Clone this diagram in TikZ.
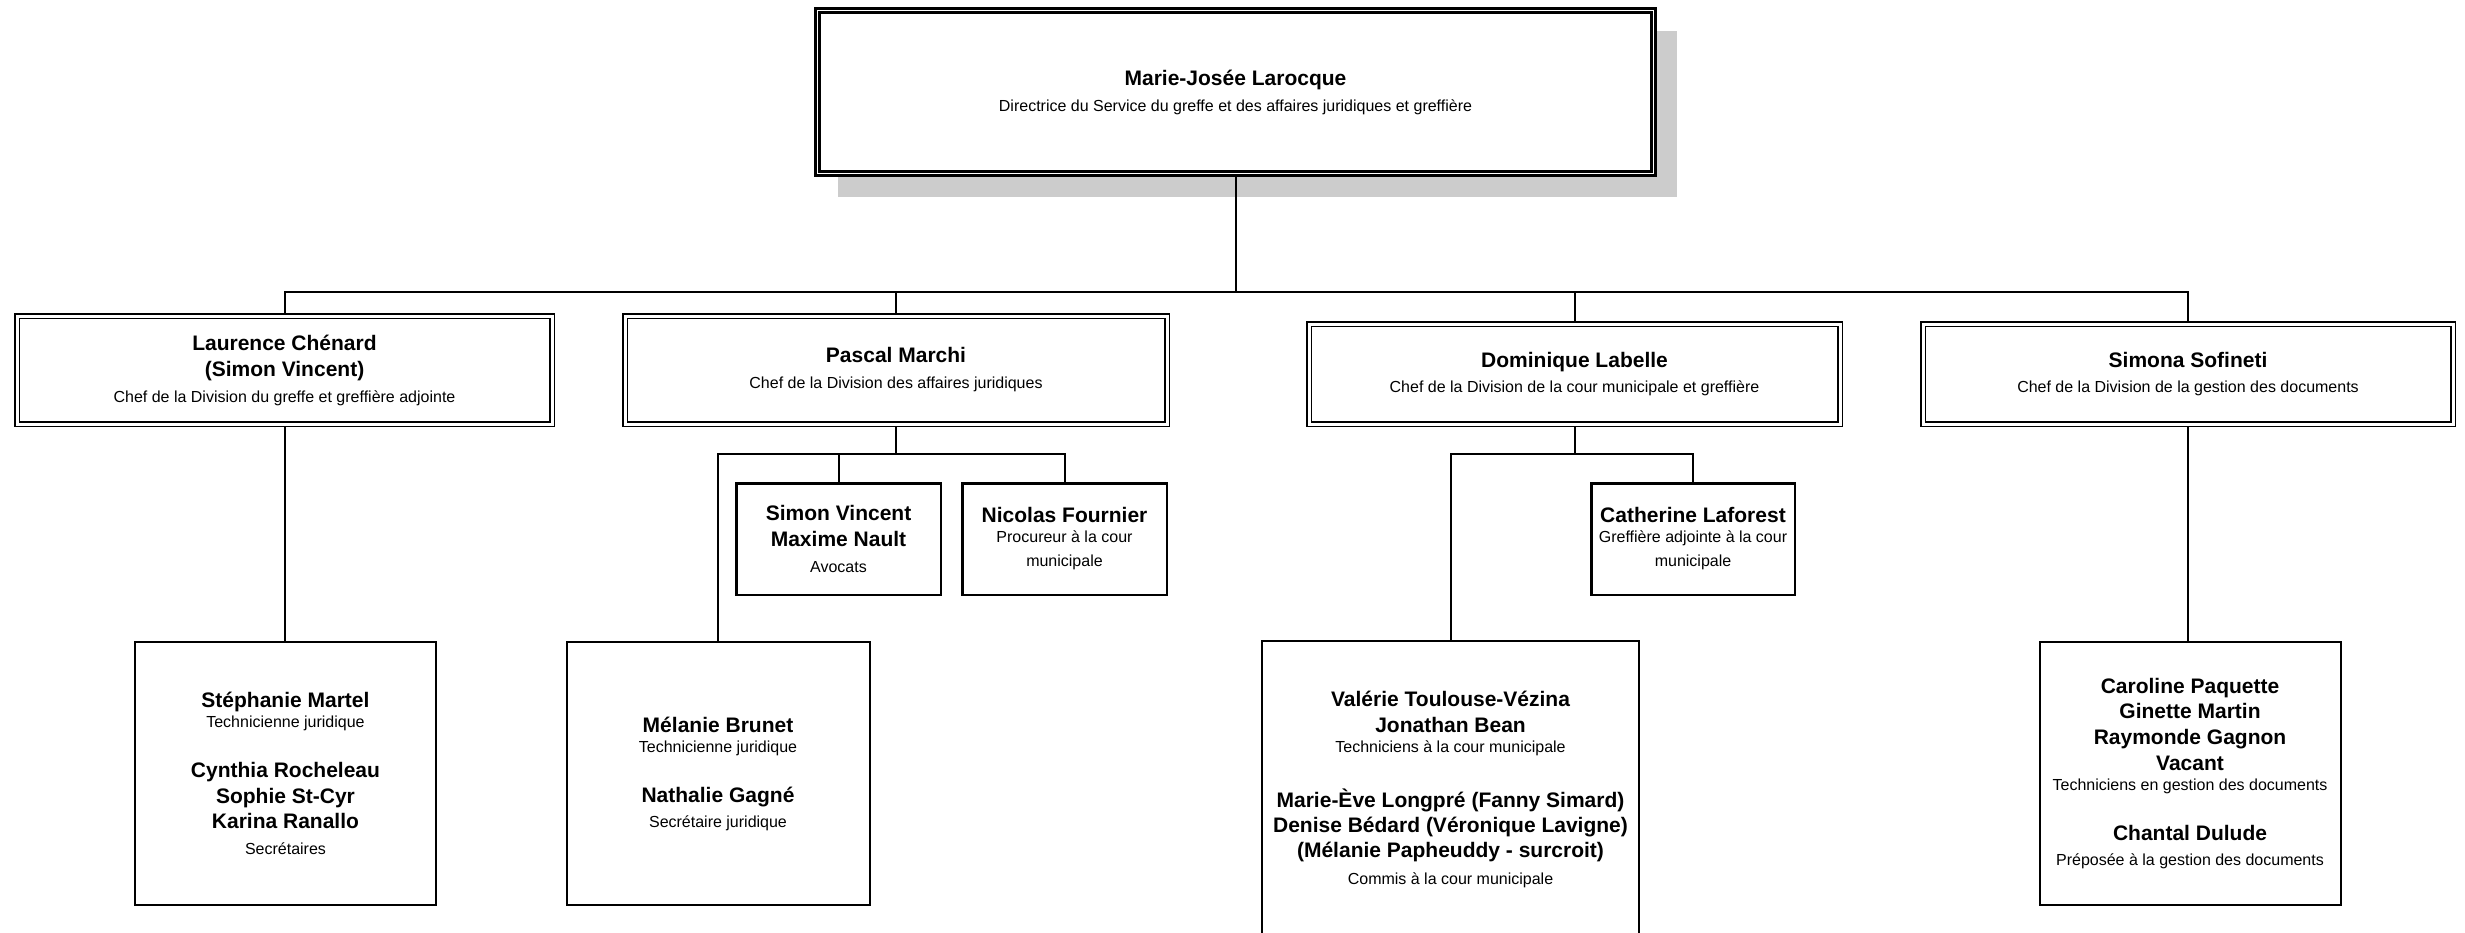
\documentclass[tikz,border=0pt]{standalone}
\usepackage{fontspec}
\setmainfont{Liberation Sans}
\usetikzlibrary{backgrounds}
\newcommand\pname[1]{{\fontsize{21}{25}\selectfont\bfseries #1}}
\newcommand\ptitle[1]{{\fontsize{16}{20}\selectfont #1}}
\tikzset{
  base/.style={fill=white, align=center, inner sep=0pt, font=\fontsize{16}{20}\selectfont},
  topbox/.style={base, draw, line width=2.5pt, double=white, double distance=1.5pt},
  divbox/.style={base, draw, line width=1.3pt, double=white, double distance=3pt},
  smallbox/.style={base, draw, line width=2.5pt},
  staffbox/.style={base, draw, line width=2pt},
  conn/.style={draw, line width=2pt},
  shadowbox/.style={fill=black!20, draw=none}
}
\begin{document}
\begin{tikzpicture}[x=1pt, y=-1pt]
\useasboundingbox (0,0) rectangle (2465,932);
\clip (0,0) rectangle (2465,932);

% top
\node[topbox, minimum width=836pt, minimum height=163pt] (top) at (1235.5,92)
  {\pname{Marie-Josée Larocque}\\[6pt]\ptitle{Directrice du Service du greffe et des affaires juridiques et greffière}};

% divisions
\node[divbox, minimum width=535pt, minimum height=108pt] (b1) at (284.5,370)
  {\pname{Laurence Chénard}\\[6pt]\pname{(Simon Vincent)}\\[6pt]\ptitle{Chef de la Division du greffe et greffière adjointe}};
\node[divbox, minimum width=542pt, minimum height=108pt] (b2) at (896,370)
  {\pname{Pascal Marchi}\\[6pt]\ptitle{Chef de la Division des affaires juridiques}};
\node[divbox, minimum width=531pt, minimum height=100pt] (b3) at (1574.5,374)
  {\pname{Dominique Labelle}\\[5pt]\ptitle{Chef de la Division de la cour municipale et greffière}};
\node[divbox, minimum width=530pt, minimum height=100pt] (b4) at (2188,374)
  {\pname{Simona Sofineti}\\[5pt]\ptitle{Chef de la Division de la gestion des documents}};

% level 3
\node[smallbox, minimum width=204.5pt, minimum height=111.5pt] (sim) at (838.5,539)
  {\pname{Simon Vincent}\\[6pt]\pname{Maxime Nault}\\[6pt]\ptitle{Avocats}};
\node[smallbox, minimum width=204.5pt, minimum height=111.5pt] (nic) at (1064.5,539)
  {\pname{Nicolas Fournier}\\\ptitle{Procureur à la cour}\\[4pt]\ptitle{municipale}};
\node[smallbox, minimum width=203.5pt, minimum height=111.5pt] (cat) at (1693,539)
  {\pname{Catherine Laforest}\\\ptitle{Greffière adjointe à la cour}\\[4pt]\ptitle{municipale}};

% staff
\node[staffbox, minimum width=301pt, minimum height=263pt] (sa) at (285.5,773.5)
  {\pname{Stéphanie Martel}\\\ptitle{Technicienne juridique}\\[30pt]\pname{Cynthia Rocheleau}\\[6pt]\pname{Sophie St-Cyr}\\[5pt]\pname{Karina Ranallo}\\[6pt]\ptitle{Secrétaires}};
\node[staffbox, minimum width=303pt, minimum height=263pt] (sb) at (718,773.5)
  {\pname{Mélanie Brunet}\\\ptitle{Technicienne juridique}\\[30pt]\pname{Nathalie Gagné}\\[5pt]\ptitle{Secrétaire juridique}};
\node[staffbox, minimum width=377pt, minimum height=297pt] (sc) at (1450.5,789.5)
  {\pname{Valérie Toulouse-Vézina}\\[6pt]\pname{Jonathan Bean}\\\ptitle{Techniciens à la cour municipale}\\[32pt]\pname{Marie-Ève Longpré (Fanny Simard)}\\[5pt]\pname{Denise Bédard (Véronique Lavigne)}\\[5pt]\pname{(Mélanie Papheuddy - surcroit)}\\[7pt]\ptitle{Commis à la cour municipale}};
\node[staffbox, minimum width=301pt, minimum height=263pt] (sd) at (2190,773.5)
  {\pname{Caroline Paquette}\\[5pt]\pname{Ginette Martin}\\[6pt]\pname{Raymonde Gagnon}\\[6pt]\pname{Vacant}\\\ptitle{Techniciens en gestion des documents}\\[30pt]\pname{Chantal Dulude}\\[5pt]\ptitle{Préposée à la gestion des documents}};

\coordinate (bus) at (1235.5,292);
\coordinate (pj) at (896,454);
\coordinate (dj) at (1574.5,454);

\begin{scope}[on background layer]
\fill[white] (0,0) rectangle (2465,932);
\fill[shadowbox] ([shift={(22pt,-22pt)}]top.north west) rectangle ([shift={(22pt,-22pt)}]top.south east);
\draw[conn] (top.south) -- (bus);
\draw[conn] (b1.north) |- (bus) -| (b4.north);
\draw[conn] (b2.north) -- (b2.north |- bus);
\draw[conn] (b3.north) -- (b3.north |- bus);
\draw[conn] (b1.south) -- (b1.south |- sa.north);
\draw[conn] (b4.south) -- (b4.south |- sd.north);
\draw[conn] (b2.south) -- (pj);
\draw[conn] (sb.north) |- (pj) -| (nic.north);
\draw[conn] (sim.north) -- (sim.north |- pj);
\draw[conn] (b3.south) -- (dj);
\draw[conn] (sc.north) |- (dj) -| (cat.north);
\end{scope}
\end{tikzpicture}
\end{document}
